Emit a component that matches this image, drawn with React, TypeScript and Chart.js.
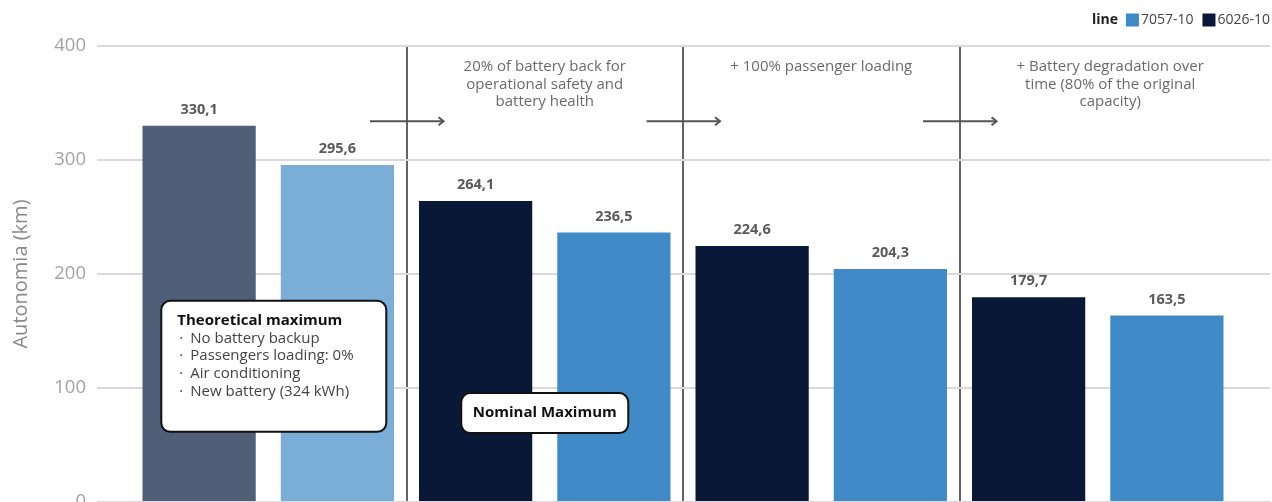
import React, { useEffect, useRef } from 'react';
import { Chart, registerables } from 'chart.js';

Chart.register(...registerables);

const FONT = '"Open Sans", sans-serif';

const categories = ['Theoretical maximum', 'Nominal maximum', '+ 100% passenger loading', '+ Battery degradation'];
const seriesNames = ['6026-10', '7057-10'];
const values6026 = [330.1, 264.1, 224.6, 179.7];
const values7057 = [295.6, 236.5, 204.3, 163.5];
const colors6026 = ['#505e78', '#0a1838', '#0a1838', '#0a1838'];
const colors7057 = ['#7aaed6', '#408bc7', '#408bc7', '#408bc7'];
const legendColors = ['#0a1838', '#408bc7'];
const yTitle = 'Autonomia (km)';
const legendTitle = 'line';
const stepNotes = [
  ['20% of battery back for', 'operational safety and', 'battery health'],
  ['+ 100% passenger loading'],
  ['+ Battery degradation over', 'time (80% of the original', 'capacity)'],
];
const theoreticalTitle = 'Theoretical maximum';
const theoreticalItems = ['No battery backup', 'Passengers loading: 0%', 'Air conditioning', 'New battery (324 kWh)'];
const nominalTitle = 'Nominal Maximum';

// annotation anchors (data units)
const noteX = [1, 2, 3.045];
const noteTopY = 381.5;
const arrowY = 334;
const arrowBounds = [0.5, 1.5, 2.5];
const box1Anchor = { x: 0.02, y: 119 };
const box2Anchor = { x: 1, y: 78 };

const fmt = (v: number) => v.toFixed(1).replace('.', ',');

function roundRect(ctx: CanvasRenderingContext2D, x: number, y: number, w: number, h: number, r: number) {
  ctx.beginPath();
  ctx.moveTo(x + r, y);
  ctx.lineTo(x + w - r, y);
  ctx.arcTo(x + w, y, x + w, y + r, r);
  ctx.lineTo(x + w, y + h - r);
  ctx.arcTo(x + w, y + h, x + w - r, y + h, r);
  ctx.lineTo(x + r, y + h);
  ctx.arcTo(x, y + h, x, y + h - r, r);
  ctx.lineTo(x, y + r);
  ctx.arcTo(x, y, x + r, y, r);
  ctx.closePath();
}

const overlay = {
  id: 'overlay',
  afterDatasetsDraw(chart: any) {
    const { ctx, scales } = chart;
    const x = scales.x;
    const y = scales.y;
    ctx.save();

    // value labels
    chart.data.datasets.forEach((ds: any, di: number) => {
      const meta = chart.getDatasetMeta(di);
      meta.data.forEach((bar: any, i: number) => {
        ctx.font = `bold 14.5px ${FONT}`;
        ctx.fillStyle = '#5a5a5a';
        ctx.textAlign = 'center';
        ctx.textBaseline = 'middle';
        ctx.fillText(fmt(ds.data[i]), bar.x, bar.y - 16);
      });
    });

    // arrows
    ctx.strokeStyle = '#555555';
    ctx.lineWidth = 2;
    arrowBounds.forEach((b) => {
      const x0 = x.getPixelForValue(b - 0.132);
      const x1 = x.getPixelForValue(b + 0.134);
      const yy = y.getPixelForValue(arrowY);
      ctx.beginPath();
      ctx.moveTo(x0, yy);
      ctx.lineTo(x1, yy);
      ctx.stroke();
      ctx.beginPath();
      ctx.moveTo(x1 - 5, yy - 4);
      ctx.lineTo(x1, yy);
      ctx.lineTo(x1 - 5, yy + 4);
      ctx.stroke();
    });

    // step notes
    ctx.font = `15px ${FONT}`;
    ctx.fillStyle = '#6b6b6b';
    ctx.textAlign = 'center';
    ctx.textBaseline = 'middle';
    stepNotes.forEach((lines, k) => {
      const cx = x.getPixelForValue(noteX[k]);
      const top = y.getPixelForValue(noteTopY);
      lines.forEach((t, j) => ctx.fillText(t, cx, top + j * 17.5));
    });

    // box 1
    {
      const cx = x.getPixelForValue(box1Anchor.x);
      const cy = y.getPixelForValue(box1Anchor.y);
      const w = 225, h = 131;
      const bx = cx - w / 2, by = cy - h / 2;
      roundRect(ctx, bx, by, w, h, 9);
      ctx.fillStyle = '#ffffff';
      ctx.fill();
      ctx.lineWidth = 2;
      ctx.strokeStyle = '#111111';
      ctx.stroke();
      ctx.textAlign = 'left';
      ctx.textBaseline = 'middle';
      ctx.fillStyle = '#111111';
      ctx.font = `bold 15px ${FONT}`;
      ctx.fillText(theoreticalTitle, bx + 16, by + 20);
      ctx.font = `15px ${FONT}`;
      ctx.fillStyle = '#444444';
      theoreticalItems.forEach((t, j) => {
        const ly = by + 20 + (j + 1) * 17.6;
        ctx.fillText('·', bx + 18, ly);
        ctx.fillText(t, bx + 29, ly);
      });
    }

    // box 2
    {
      const cx = x.getPixelForValue(box2Anchor.x);
      const cy = y.getPixelForValue(box2Anchor.y);
      const w = 167, h = 40;
      const bx = cx - w / 2, by = cy - h / 2;
      roundRect(ctx, bx, by, w, h, 9);
      ctx.fillStyle = '#ffffff';
      ctx.fill();
      ctx.lineWidth = 2;
      ctx.strokeStyle = '#111111';
      ctx.stroke();
      ctx.textAlign = 'center';
      ctx.textBaseline = 'middle';
      ctx.fillStyle = '#111111';
      ctx.font = `bold 15px ${FONT}`;
      ctx.fillText(nominalTitle, cx, cy);
    }

    // legend (right aligned): title, then 7057-10, then 6026-10
    {
      const ly = 20;
      ctx.textBaseline = 'middle';
      ctx.textAlign = 'left';
      ctx.font = `14px ${FONT}`;
      const order = [1, 0];
      let right = 1270;
      const items: { x: number; label: string; color: string }[] = [];
      for (let k = order.length - 1; k >= 0; k--) {
        const di = order[k];
        const label = chart.data.datasets[di].label;
        const tw = ctx.measureText(label).width;
        const tx = right - tw;
        items.unshift({ x: tx, label, color: legendColors[di] });
        right = tx - 2 - 13 - 9;
      }
      items.forEach((it) => {
        ctx.fillStyle = it.color;
        ctx.fillRect(it.x - 15, ly - 6.5, 13, 13);
        ctx.fillStyle = '#444444';
        ctx.font = `14px ${FONT}`;
        ctx.fillText(it.label, it.x, ly);
      });
      ctx.font = `bold 14px ${FONT}`;
      ctx.fillStyle = '#222222';
      ctx.textAlign = 'right';
      ctx.fillText(legendTitle, items[0].x - 15 - 8, ly);
    }

    ctx.restore();
  },
};

export default function App() {
  const ref = useRef<HTMLCanvasElement | null>(null);

  useEffect(() => {
    if (!ref.current) return;
    Chart.defaults.font.family = FONT;
    const chart = new Chart(ref.current, {
      type: 'bar',
      data: {
        labels: categories,
        datasets: [
          {
            label: seriesNames[0],
            data: values6026,
            backgroundColor: colors6026,
            categoryPercentage: 1.0,
            barPercentage: 0.819,
          },
          {
            label: seriesNames[1],
            data: values7057,
            backgroundColor: colors7057,
            categoryPercentage: 1.0,
            barPercentage: 0.819,
          },
        ],
      },
      options: {
        responsive: false,
        animation: false,
        layout: { padding: { top: 46, bottom: 28, left: 0, right: 2 } },
        plugins: {
          legend: { display: false },
          tooltip: { enabled: false },
        },
        scales: {
          x: {
            offset: true,
            ticks: { display: false },
            grid: {
              offset: true,
              drawTicks: false,
              lineWidth: 2,
              color: (c: any) =>
                c.index === undefined || c.index === 0 || c.index >= categories.length ? 'rgba(0,0,0,0)' : '#636363',
            },
            border: { display: false },
          },
          y: {
            position: 'left',
            min: 0,
            max: 400,
            ticks: { stepSize: 100, color: '#a3a3a3', font: { size: 18.5 }, padding: 11 },
            grid: { color: '#dadada', lineWidth: 2, tickLength: 33 },
            border: { display: false },
            title: {
              display: true,
              text: yTitle,
              color: '#8a8a8a',
              font: { size: 20 },
              padding: { top: 9, bottom: 0 },
            },
            afterFit: (s: any) => {
              s.width = 130;
            },
          },
          y2: {
            position: 'right',
            min: 0,
            max: 400,
            ticks: { display: false, stepSize: 100 },
            grid: { drawOnChartArea: false, color: '#dadada', lineWidth: 2, tickLength: 34 },
            border: { display: false },
            afterFit: (s: any) => {
              s.width = 34;
            },
          },
        },
      } as any,
      plugins: [overlay],
    });
    return () => chart.destroy();
  }, []);

  return (
    <div style={{ position: 'fixed', left: 0, top: 0, width: 1272, height: 530 }}>
      <canvas ref={ref} width={1272} height={530} />
    </div>
  );
}
